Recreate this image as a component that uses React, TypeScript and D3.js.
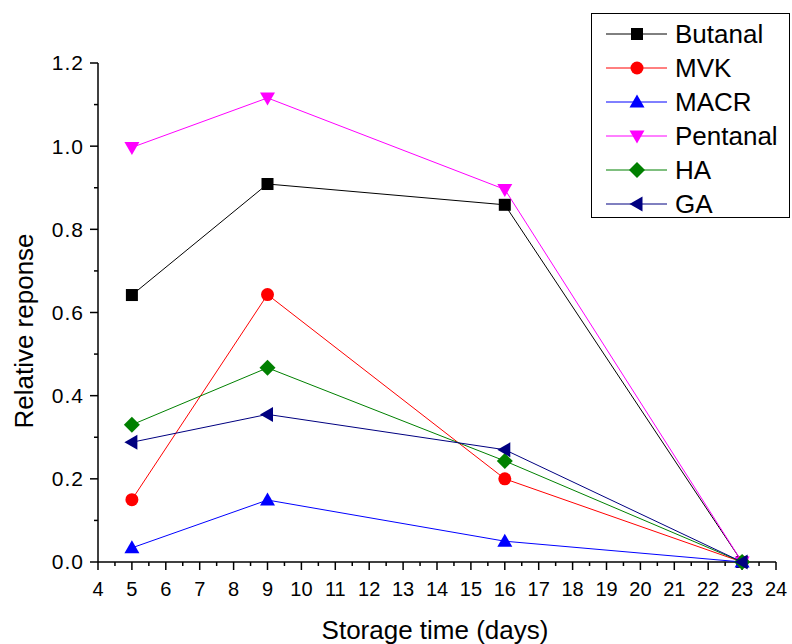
import React from "react";
import * as d3 from "d3";

const days = [5, 9, 16, 23];
const butanal = [0.642, 0.909, 0.859, 0];
const mvk = [0.15, 0.643, 0.2, 0];
const macr = [0.034, 0.149, 0.05, 0];
const pentanal = [0.997, 1.116, 0.896, 0];
const ha = [0.33, 0.467, 0.243, 0];
const ga = [0.288, 0.355, 0.27, 0];

const seriesNames = ["Butanal", "MVK", "MACR", "Pentanal", "HA", "GA"];
const seriesValues = [butanal, mvk, macr, pentanal, ha, ga];
const seriesColors = ["#000000", "#FF0000", "#0000FF", "#FF00FF", "#008000", "#000080"];
const seriesMarkers = ["square", "circle", "triangleUp", "triangleDown", "diamond", "triangleLeft"];

const xTicks = d3.range(4, 25, 1);
const yTicks = [0, 0.2, 0.4, 0.6, 0.8, 1.0, 1.2];

const W = 792, H = 644;
const x = d3.scaleLinear().domain([4, 24]).range([98, 776]);
const y = d3.scaleLinear().domain([0, 1.2]).range([562, 63]);

function Marker({ type, cx, cy, color }: { type: string; cx: number; cy: number; color: string }) {
  if (type === "square") return <rect x={cx - 6} y={cy - 6} width={12} height={12} fill={color} />;
  if (type === "circle") return <circle cx={cx} cy={cy} r={6.5} fill={color} />;
  let pts: number[][] = [];
  if (type === "triangleUp") pts = [[cx, cy - 7.5], [cx + 7.5, cy + 5.5], [cx - 7.5, cy + 5.5]];
  if (type === "triangleDown") pts = [[cx, cy + 7.5], [cx + 7.5, cy - 5.5], [cx - 7.5, cy - 5.5]];
  if (type === "triangleLeft") pts = [[cx - 7.5, cy], [cx + 5.5, cy - 7.5], [cx + 5.5, cy + 7.5]];
  if (type === "diamond") pts = [[cx, cy - 8], [cx + 8, cy], [cx, cy + 8], [cx - 8, cy]];
  return <polygon points={pts.map((p) => p.join(",")).join(" ")} fill={color} />;
}

export default function App() {
  const line = d3.line<number>().x((_, i) => x(days[i])).y((d) => y(d));
  const font = "Liberation Sans, Arial, sans-serif";
  const xMinor = d3.range(4.5, 24, 1);
  const yMinor = [0.1, 0.3, 0.5, 0.7, 0.9, 1.1];
  return (
    <svg width={W} height={H} style={{ position: "absolute", left: 0, top: 0, background: "#fff" }} fontFamily={font}>
      <rect x={0} y={0} width={W} height={H} fill="#fff" />
      {/* axes */}
      <line x1={x(4)} x2={x(4)} y1={y(1.2)} y2={y(0)} stroke="#000" strokeWidth={1.5} />
      <line x1={x(4)} x2={x(24)} y1={y(0)} y2={y(0)} stroke="#000" strokeWidth={1.5} />
      {yTicks.map((t) => (
        <g key={"y" + t}>
          <line x1={x(4) - 8} x2={x(4)} y1={y(t)} y2={y(t)} stroke="#000" strokeWidth={1.5} />
          <text x={x(4) - 14} y={y(t)} dy="0.35em" textAnchor="end" fontSize={21} letterSpacing={1}>{t.toFixed(1)}</text>
        </g>
      ))}
      {yMinor.map((t) => (
        <line key={"ym" + t} x1={x(4) - 4} x2={x(4)} y1={y(t)} y2={y(t)} stroke="#000" strokeWidth={1.5} />
      ))}
      {xTicks.map((t) => (
        <g key={"x" + t}>
          <line x1={x(t)} x2={x(t)} y1={y(0)} y2={y(0) + 8} stroke="#000" strokeWidth={1.5} />
          <text x={x(t)} y={y(0) + 34} textAnchor="middle" fontSize={20}>{t}</text>
        </g>
      ))}
      {xMinor.map((t) => (
        <line key={"xm" + t} x1={x(t)} x2={x(t)} y1={y(0)} y2={y(0) + 4} stroke="#000" strokeWidth={1.5} />
      ))}
      <text x={435} y={639} textAnchor="middle" fontSize={26}>Storage time (days)</text>
      <text transform={`translate(33,331) rotate(-90)`} textAnchor="middle" fontSize={26}>Relative reponse</text>
      {/* series */}
      {seriesValues.map((vals, si) => (
        <g key={"s" + si}>
          <path d={line(vals) || ""} fill="none" stroke={seriesColors[si]} strokeWidth={1} />
          {vals.map((v, i) => (
            <Marker key={i} type={seriesMarkers[si]} cx={x(days[i])} cy={y(v)} color={seriesColors[si]} />
          ))}
        </g>
      ))}
      {/* legend */}
      <rect x={591.5} y={13.5} width={198} height={204} fill="#fff" stroke="#000" strokeWidth={1} />
      {seriesNames.map((n, i) => {
        const ly = 34 + i * 34;
        return (
          <g key={"l" + n}>
            <line x1={606} x2={667} y1={ly} y2={ly} stroke={seriesColors[i]} strokeWidth={1} />
            <Marker type={seriesMarkers[i]} cx={637} cy={ly} color={seriesColors[i]} />
            <text x={675} y={ly} dy="0.36em" fontSize={26}>{n}</text>
          </g>
        );
      })}
    </svg>
  );
}
